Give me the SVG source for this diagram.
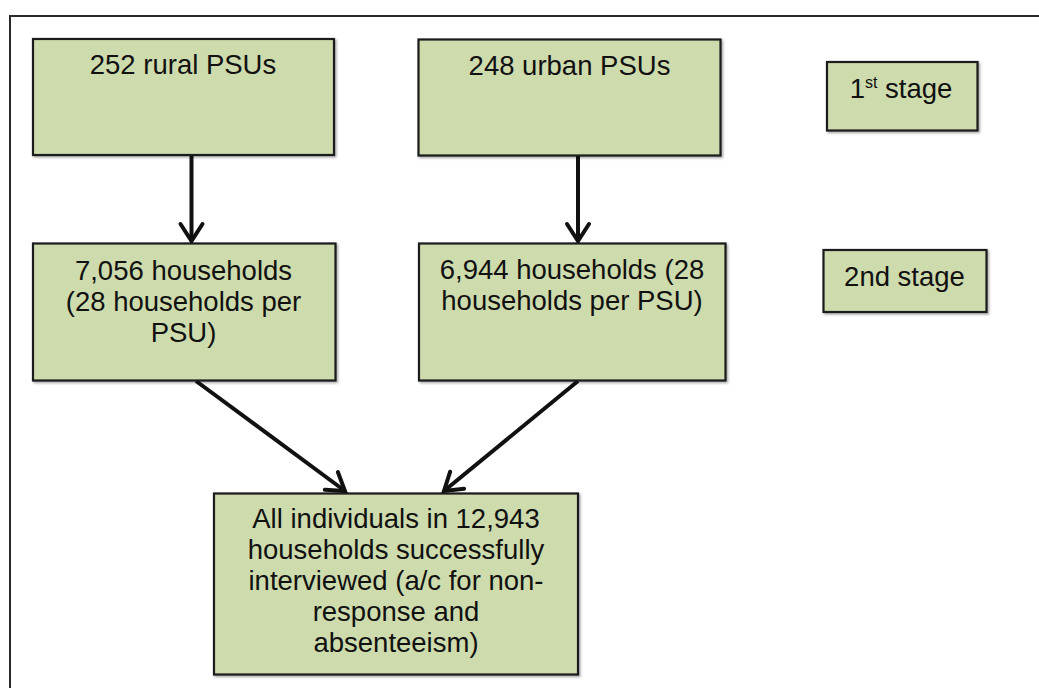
<svg xmlns="http://www.w3.org/2000/svg" width="1039" height="688" viewBox="0 0 1039 688">
<defs>
<style>
.box{fill:#cedbad;stroke:#1a1a1a;stroke-width:2.2}
.t{font-family:"Liberation Sans",Arial,sans-serif;font-size:27.5px;fill:#111;text-anchor:middle}
.c{stroke:#111;stroke-width:4;fill:none}
.h{stroke:#111;stroke-width:4;fill:none;stroke-linejoin:miter;stroke-linecap:round}
</style>
<marker id="ah" markerUnits="userSpaceOnUse" markerWidth="30" markerHeight="30" refX="0" refY="0" viewBox="-20 -15 25 30" orient="auto" overflow="visible">
<path d="M-17,-11 L0,0 L-17,11" class="h"/>
</marker>
<filter id="sh" x="-5%" y="-5%" width="115%" height="115%">
<feDropShadow dx="1.5" dy="1.5" stdDeviation="1.2" flood-color="#000" flood-opacity="0.35"/>
</filter>
</defs>
<rect width="1039" height="688" fill="#ffffff"/>
<path d="M10,688 L10,16 L1039,16" fill="none" stroke="#2a2a2a" stroke-width="2"/>

<g id="connectors">
<line x1="191.5" y1="156" x2="191.5" y2="241" class="c" marker-end="url(#ah)"/>
<line x1="578" y1="156" x2="578" y2="241" class="c" marker-end="url(#ah)"/>
<line x1="196" y1="381" x2="345" y2="491" class="c" marker-end="url(#ah)"/>
<line x1="578" y1="381" x2="444" y2="491" class="c" marker-end="url(#ah)"/>
</g>

<g id="rural">
<rect x="33" y="39" width="301" height="116" class="box" filter="url(#sh)"/>
<text x="183" y="74" class="t">252 rural PSUs</text>
</g>
<g id="urban">
<rect x="418.5" y="39.5" width="302" height="116" class="box" filter="url(#sh)"/>
<text x="569.5" y="75" class="t">248 urban PSUs</text>
</g>
<g id="stage1">
<rect x="827" y="62" width="150.5" height="68.5" class="box" filter="url(#sh)"/>
<text x="901" y="98" class="t">1<tspan font-size="16" dy="-10">st</tspan><tspan dy="10"> stage</tspan></text>
</g>
<g id="hh-rural">
<rect x="33" y="243.5" width="302.5" height="137" class="box" filter="url(#sh)"/>
<text class="t"><tspan x="183.5" y="280">7,056 households</tspan><tspan x="183.5" y="311">(28 households per</tspan><tspan x="183.5" y="342">PSU)</tspan></text>
</g>
<g id="hh-urban">
<rect x="419" y="243.5" width="306.5" height="137" class="box" filter="url(#sh)"/>
<text class="t"><tspan x="572" y="279">6,944 households (28</tspan><tspan x="572" y="310">households per PSU)</tspan></text>
</g>
<g id="stage2">
<rect x="823.5" y="250" width="163" height="62" class="box" filter="url(#sh)"/>
<text x="904.5" y="286" class="t">2nd stage</text>
</g>
<g id="final">
<rect x="214" y="493.5" width="364" height="181" class="box" filter="url(#sh)"/>
<text class="t"><tspan x="396" y="528">All individuals in 12,943</tspan><tspan x="396" y="559">households successfully</tspan><tspan x="396" y="590">interviewed (a/c for non-</tspan><tspan x="396" y="621">response and</tspan><tspan x="396" y="652">absenteeism)</tspan></text>
</g>
</svg>
